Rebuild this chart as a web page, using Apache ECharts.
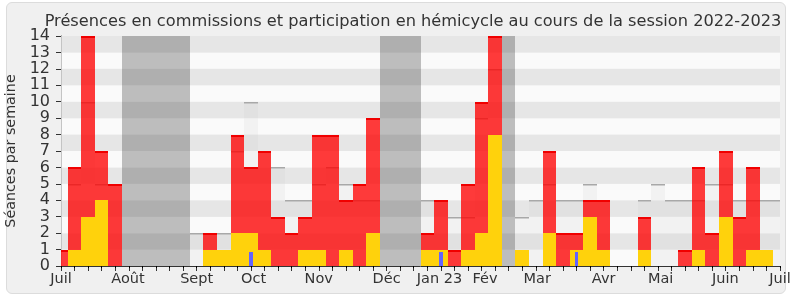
<!DOCTYPE html>
<html><head><meta charset="utf-8">
<script src="https://cdn.jsdelivr.net/npm/echarts@6/dist/echarts.min.js"></script>
<style>
html,body{margin:0;padding:0;background:#fff;}
#panel{position:absolute;left:6px;top:2px;width:780px;height:292px;background:#f0f0f0;border:1px solid #dcdcdc;border-radius:6px;box-sizing:border-box;}
#chart{position:absolute;left:0;top:0;width:790px;height:300px;}
</style></head><body>
<div id="panel"></div><div id="chart"></div>
<script>
// week index 0..53
const weeks = [0,1,2,3,4,5,6,7,8,9,10,11,12,13,14,15,16,17,18,19,20,21,22,23,24,25,26,27,28,29,30,31,32,33,34,35,36,37,38,39,40,41,42,43,44,45,46,47,48,49,50,51,52,53];
const commission = [1,6,14,7,5,0,0,0,0,0,0,2,0,8,6,7,3,2,3,8,8,4,5,9,0,0,0,2,4,1,5,10,14,0,0,0,7,2,2,4,4,0,0,3,0,0,1,6,2,7,3,6,0,0];
const hemicycle  = [0,1,3,4,0,0,0,0,0,0,0,1,1,2,2,1,0,0,1,1,0,1,0,2,0,0,0,1,1,0,1,2,8,0,1,0,2,0,1,3,1,0,0,1,0,0,0,1,0,3,0,1,1,0];
const mediane    = [0,5,10,5,5,0,0,0,0,0,2,2,2,7,10,7,6,4,4,5,6,5,4,4,0,0,0,4,4,3,3,9,12,0,3,4,5,4,4,5,4,0,0,4,5,4,4,4,5,5,4,4,4,4];
const questionWeeks = [14,28,38];
const questionValues = [0.87,0.87,0.87];
const vacationRanges = [[5,9],[24,26],[33,33]];
const monthLabels = ['Juil','Août','Sept','Oct','Nov','Déc','Jan 23','Fév','Mar','Avr','Mai','Juin','Juil'];
const monthPos = [0,4.94,10,14.2,19,24,27.9,31.25,35.1,40,44.2,48.97,53];
const yTicks = [0,1,2,3,4,5,6,7,8,9,10,11,12,13,14];

const FONT = 'DejaVu Sans';

function clipRect(r, cs){
  return echarts.graphic.clipRectByRect(r, {x:cs.x, y:cs.y, width:cs.width, height:cs.height});
}
function makeBar(fill, topColor, topWidth, frac){
  return function(params, api){
    const x = api.value(0), v = api.value(1);
    if (!(v > 0)) return null;
    const a = api.coord([x - frac/2, 0]);
    const b = api.coord([x + frac/2, v]);
    const x0 = Math.round(a[0]), x1 = Math.round(b[0]);
    const y0 = Math.round(a[1]), y1 = Math.round(b[1]);
    const r = clipRect({x:x0, y:y1, width:x1-x0, height:y0-y1}, params.coordSys);
    if (!r) return null;
    const children = [{type:'rect', shape:r, style:{fill:fill}}];
    if (topColor) children.push({type:'line', shape:{x1:r.x, y1:r.y+topWidth/2, x2:r.x+r.width, y2:r.y+topWidth/2}, style:{stroke:topColor, lineWidth:topWidth}});
    return {type:'group', children:children};
  };
}
function vacRender(params, api){
  const s = api.value(0), e = api.value(1);
  const a = api.coord([s - 0.5, 0]);
  const b = api.coord([e + 0.5, yTicks[yTicks.length-1]]);
  const r = clipRect({x:Math.round(a[0]), y:Math.round(b[1]), width:Math.round(b[0])-Math.round(a[0]), height:Math.round(a[1])-Math.round(b[1])}, params.coordSys);
  if (!r) return null;
  return {type:'rect', shape:r, style:{fill:'rgba(50,50,50,0.3)'}};
}

const chart = echarts.init(document.getElementById('chart'), null, {renderer:'canvas'});
chart.setOption({
  animation:false,
  title:{text:'Présences en commissions et participation en hémicycle au cours de la session 2022-2023', left:408, textAlign:'center', top:9,
    textStyle:{fontFamily:FONT, fontSize:16.2, fontWeight:'normal', color:'#333'}},
  grid:{left:61, right:10, top:36, bottom:34, outerBoundsMode:'none', containLabel:false},
  xAxis:[{
    type:'value', min:0, max:53, interval:1, position:'bottom',
    axisLine:{show:true, onZero:false, lineStyle:{color:'#333', width:1}},
    axisTick:{show:true, length:5, lineStyle:{color:'#333'}},
    splitLine:{show:false},
    axisLabel:{show:true, customValues:monthPos, margin:6, fontFamily:FONT, fontSize:14.5, color:'#333',
      formatter:function(v){ const k = monthPos.findIndex(p=>Math.abs(p-v)<0.001); return k>=0?monthLabels[k]:''; }}
  },{
    type:'value', min:0, max:53, interval:1, position:'top',
    axisLine:{show:false}, axisTick:{show:true, inside:true, length:2, lineStyle:{color:'#000'}},
    axisLabel:{show:false}, splitLine:{show:false}
  }],
  yAxis:[{
    type:'value', min:0, max:14, interval:1,
    name:'Séances par semaine', nameLocation:'middle', nameGap:41, nameRotate:90,
    nameTextStyle:{fontFamily:FONT, fontSize:14.3, color:'#333'},
    axisLine:{show:true, lineStyle:{color:'#333'}},
    axisTick:{show:true, length:5, lineStyle:{color:'#333'}},
    axisLabel:{fontFamily:FONT, fontSize:16, color:'#333', margin:11},
    splitLine:{show:false},
    splitArea:{show:true, areaStyle:{color:['#fafafa','#e6e6e6']}}
  },{
    type:'value', min:0, max:14, interval:1, position:'right',
    axisLine:{show:true, lineStyle:{color:'#c4c4c4'}}, axisTick:{show:false}, axisLabel:{show:false}, splitLine:{show:false}
  }],
  series:[
    {type:'custom', name:'Vacances', z:2, renderItem:vacRender, data:vacationRanges, encode:{x:[0,1]}},
    {type:'custom', name:'Médiane', z:3, renderItem:makeBar('rgba(190,190,190,0.12)','#a8a8a8',1.5,1), data:weeks.map((w,i)=>[w,mediane[i]])},
    {type:'custom', name:'Commission', z:4, renderItem:makeBar('rgba(255,0,0,0.77)','#f00000',2,1), data:weeks.map((w,i)=>[w,commission[i]])},
    {type:'custom', name:'Hémicycle', z:5, renderItem:makeBar('#ffd20c',null,0,1), data:weeks.map((w,i)=>[w,hemicycle[i]])},
    {type:'custom', name:'Questions', z:6, renderItem:makeBar('#6464ff',null,0,0.28), data:questionWeeks.map((w,i)=>[w,questionValues[i]])}
  ]
});
</script>
</body></html>
